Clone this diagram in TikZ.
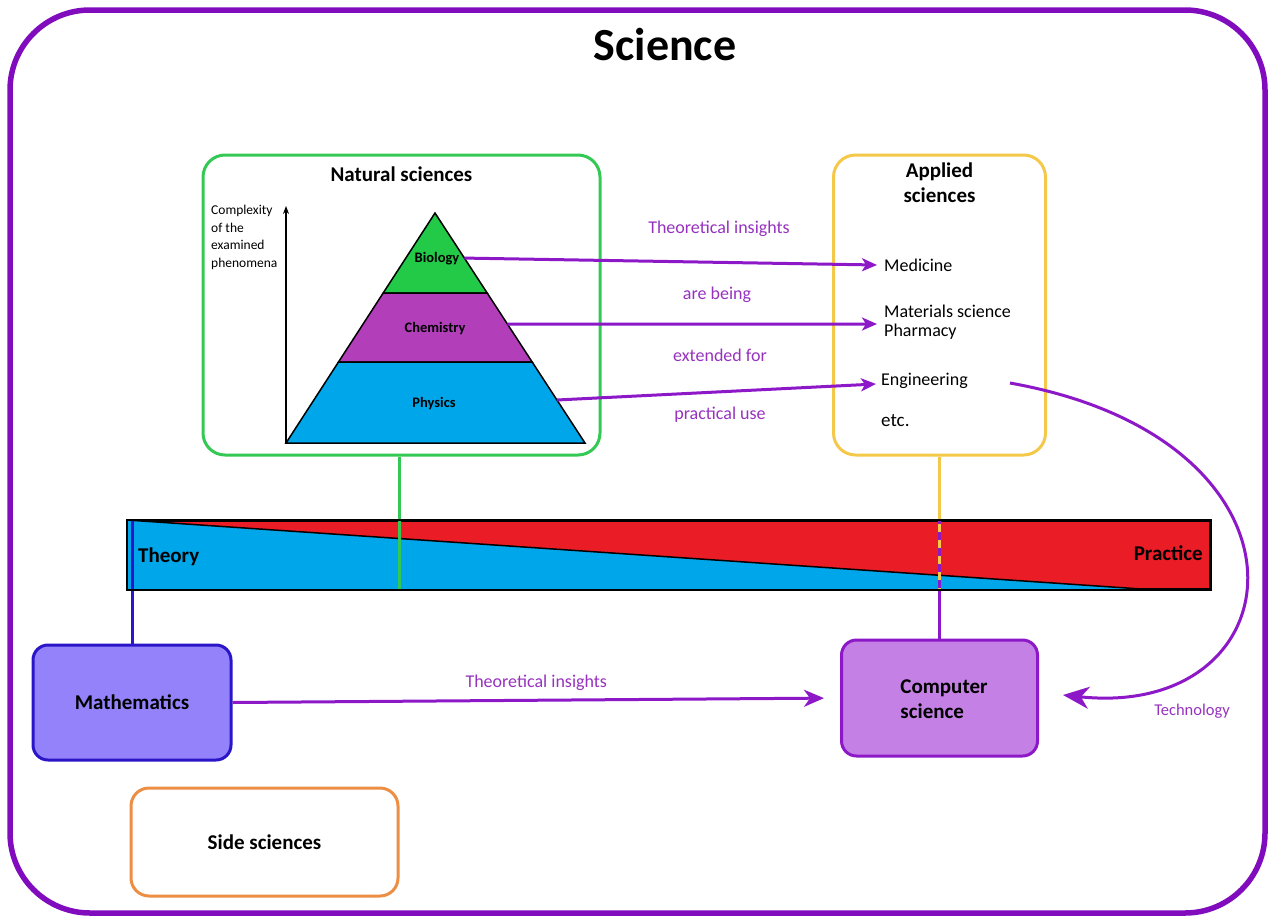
\documentclass[tikz,border=0pt]{standalone}
\usepackage{fontspec}
\setmainfont{Carlito}
\usetikzlibrary{calc, positioning, arrows.meta}

\definecolor{framepurple}{RGB}{128,12,190}
\definecolor{arrowpurple}{RGB}{140,24,200}
\definecolor{labelpurple}{RGB}{150,50,190}
\definecolor{natgreen}{RGB}{52,200,84}
\definecolor{appyellow}{RGB}{244,200,72}
\definecolor{biofill}{RGB}{34,202,72}
\definecolor{chemfill}{RGB}{178,62,186}
\definecolor{physfill}{RGB}{0,166,234}
\definecolor{barred}{RGB}{234,28,38}
\definecolor{mathblue}{RGB}{42,22,200}
\definecolor{mathfill}{RGB}{148,130,250}
\definecolor{compfill}{RGB}{196,128,228}
\definecolor{sideorange}{RGB}{236,142,68}

\begin{document}
\begin{tikzpicture}
[
    x = 1pt, y = -1pt,
    every node/.style = {inner sep = 2pt, align = center},
    node distance = 8pt
  ]

  \tikzset{BoxStyle/.style = {rectangle,
                              rounded corners = 22,
                              line width      = 3,
                              inner sep       = 0pt},
           HeadStyle/.style = {font = \fontsize{21}{25}\selectfont\bfseries},
           LayerStyle/.style = {font = \fontsize{14.5}{16}\selectfont\bfseries},
           ItemStyle/.style = {anchor = west, inner sep = 4pt, align = left,
                               font = \fontsize{18}{19}\selectfont},
           NoteStyle/.style = {text = labelpurple, font = \fontsize{18}{21}\selectfont},
           ArrowStyle/.style = {draw = arrowpurple, line width = 3,
                                -{Stealth[length = 15pt, width = 13pt, inset = 4pt]}}}

  \useasboundingbox (0,0) rectangle (1271,918);

  % outer frame and title
  \draw[framepurple, line width = 5.5, rounded corners = 80] (10,10) rectangle (1265,913);
  \node[font = \fontsize{46}{50}\selectfont\bfseries] (title) at (665,45) {Science};

  % the two upper boxes
  \node[BoxStyle, draw = natgreen, minimum width = 397, minimum height = 300] (natural) at (401.5,305) {};
  \node[HeadStyle, below = 11pt of natural.north] (naturalHead) {Natural sciences};

  \node[BoxStyle, draw = appyellow, minimum width = 212, minimum height = 300] (applied) at (939.5,305) {};
  \node[HeadStyle, below = 7pt of applied.north] (appliedHead) {Applied\\sciences};

  % pyramid
  \coordinate (apex)  at (435,213);
  \coordinate (baseL) at (286,443);
  \coordinate (baseR) at (585,443);
  \coordinate (b1L) at ($(apex)!0.348!(baseL)$);
  \coordinate (b1R) at ($(apex)!0.348!(baseR)$);
  \coordinate (b2L) at ($(apex)!0.648!(baseL)$);
  \coordinate (b2R) at ($(apex)!0.648!(baseR)$);

  \filldraw[fill = biofill,  line width = 1.5] (apex) -- (b1R) -- (b1L) -- cycle;
  \filldraw[fill = chemfill, line width = 1.5] (b1L) -- (b1R) -- (b2R) -- (b2L) -- cycle;
  \filldraw[fill = physfill, line width = 1.5] (b2L) -- (b2R) -- (baseR) -- (baseL) -- cycle;

  \node[LayerStyle] (biology)   at (437,259) {Biology};
  \node[LayerStyle] (chemistry) at (435,329) {Chemistry};
  \node[LayerStyle] (physics)   at (434,404) {Physics};

  \draw[line width = 1.2, -{Stealth[length = 8pt, width = 6pt]}] (baseL) -- (286,206);
  \node[anchor = north west, align = left, font = \fontsize{13.5}{17.5}\selectfont] (axisLabel)
        at (209,203) {Complexity\\of the\\examined\\phenomena};

  % applied fields
  \node[ItemStyle] (medicine)    at (880,265) {Medicine};
  \node[ItemStyle] (materials)   at (880,322) {Materials science\\Pharmacy};
  \node[ItemStyle] (engineering) at (877,381) {Engineering};
  \node[ItemStyle, font = \fontsize{19}{20}\selectfont] (etc) at (877,421) {etc.};

  \coordinate (bioEdge)  at ($(apex)!0.196!(baseR)$);
  \coordinate (chemEdge) at ($(apex)!0.483!(baseR)$);
  \coordinate (physEdge) at ($(apex)!0.813!(baseR)$);

  \draw[ArrowStyle] (bioEdge)  -- ([xshift = -3pt]medicine.west);
  \draw[ArrowStyle] (chemEdge) -- ([xshift = -3pt, yshift = -2]materials.west);
  \draw[ArrowStyle] (physEdge) -- ([xshift = -1pt, yshift = -3]engineering.west);

  \node[NoteStyle] (note1) at (719,229) {Theoretical insights};
  \node[NoteStyle] (note2) at (717,295) {are being};
  \node[NoteStyle] (note3) at (720,355) {extended for};
  \node[NoteStyle] (note4) at (720,415) {practical use};

  % theory / practice bar
  \node[draw, fill = barred, line width = 2, inner sep = 0pt,
        minimum width = 1082, minimum height = 68] (bar) at (669,555) {};
  \fill[physfill] (bar.north west) -- ($(bar.south east)+(-55,0)$) -- (bar.south west) -- cycle;
  \draw[line width = 1.5] (bar.north west) -- ($(bar.south east)+(-55,0)$);

  % lower boxes
  \node[BoxStyle, draw = mathblue, fill = mathfill, rounded corners = 15,
        minimum width = 198, minimum height = 115] (math) at (132,702.5) {};
  \node[HeadStyle] (mathText) at (math.center) {Mathematics};

  \node[BoxStyle, draw = arrowpurple, fill = compfill, rounded corners = 15,
        minimum width = 196, minimum height = 116] (comp) at (939.5,698) {};
  \node[HeadStyle, align = left] (compText) at (944,699) {Computer\\science};

  \node[BoxStyle, draw = sideorange, rounded corners = 18,
        minimum width = 267, minimum height = 108] (side) at (264.5,842) {};
  \node[HeadStyle] (sideText) at (side.center) {Side sciences};

  % vertical connectors
  \draw[natgreen, line width = 3] ([xshift = -2pt]natural.south) -- ([xshift = -2pt]natural.south |- bar.south);
  \draw[mathblue, line width = 3] (math.north) -- (math.north |- bar.north);
  \draw[appyellow, line width = 3] (applied.south) -- (applied.south |- bar.south);
  \draw[arrowpurple, line width = 3, dash pattern = on 8pt off 8pt, dash phase = 4pt]
        (comp.north |- bar.north) -- (comp.north |- bar.south);
  \draw[arrowpurple, line width = 3] (comp.north |- bar.south) -- (comp.north);

  \draw[line width = 2] (bar.north west) rectangle (bar.south east);
  \node[HeadStyle, anchor = west] (theory)   at (136,557) {Theory};
  \node[HeadStyle, anchor = east] (practice) at (1205,553) {Practice};

  % horizontal links
  \draw[ArrowStyle, -{Stealth[length = 20pt, width = 17pt, inset = 6pt]}, shorten >= 16pt]
        (math.east) -- (comp.west) node[NoteStyle, midway, above = 6pt] (note5) {Theoretical insights};

  \draw[ArrowStyle, -{Stealth[length = 26pt, width = 22pt, inset = 8pt]}]
        ([xshift = 38pt, yshift = -2pt]engineering.east)
        .. controls (1330,440) and (1300,720) .. ([xshift = 24pt, yshift = 3pt]comp.east);
  \node[NoteStyle, font = \fontsize{16.5}{18}\selectfont] (tech) at (1192,711) {Technology};

\end{tikzpicture}
\end{document}
